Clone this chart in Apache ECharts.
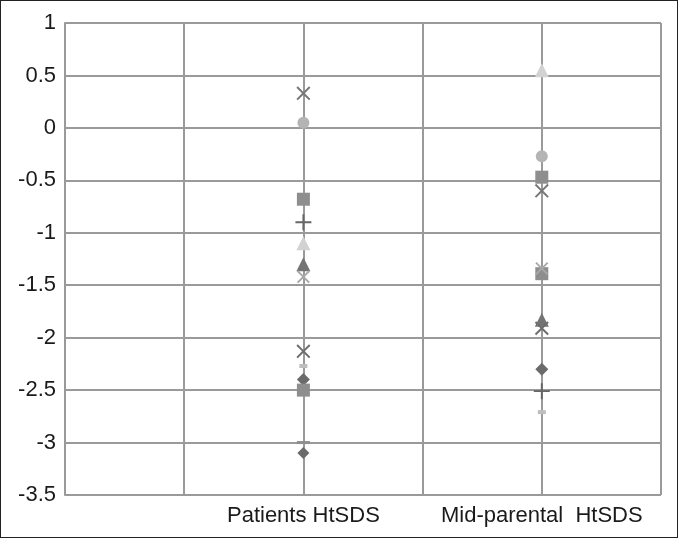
<!DOCTYPE html>
<html>
<head>
<meta charset="utf-8">
<script src="https://cdn.jsdelivr.net/npm/echarts@6/dist/echarts.min.js"></script>
<style>
  html, body { margin: 0; padding: 0; background: #fff; }
  #chart { width: 676px; height: 536px; border: 1px solid #222; }
</style>
</head>
<body>
<div id="chart"></div>
<script>
// x positions (Excel-like category slots, points sit on the tick lines)
var categories = ['', '', 'Patients HtSDS', '', 'Mid-parental  HtSDS', ''];
var patientsIdx = 2;
var midIdx = 4;

// one entry per subject: [patients HtSDS, mid-parental HtSDS]
var patientsValues = [-2.4, -2.5, -1.3, -2.13, -1.42, 0.05, -0.9, -2.27, -3.0, -3.1, -0.68, -1.1, 0.33];
var midValues      = [-2.3, -1.39, -1.83, -1.91, -1.34, -0.27, -2.51, -2.71, null, null, -0.47, 0.55, -0.6];

var X_PATH = 'path://M0,1L1,0L5,4L9,0L10,1L6,5L10,9L9,10L5,6L1,10L0,9L4,5Z';
var PLUS_PATH = 'path://M4.4,0H5.6V4.4H10V5.6H5.6V10H4.4V5.6H0V4.4H4.4Z';

// marker look per subject
var markers = [
  { symbol: 'diamond', size: 13, color: '#6b6b6b' },
  { symbol: 'rect', size: 13, color: '#8e8e8e' },
  { symbol: 'triangle', size: 14, color: '#747474' },
  { symbol: X_PATH, size: 14, color: '#6e6e6e' },
  { symbol: X_PATH, size: 13, color: '#a8a8a8' },
  { symbol: 'circle', size: 12, color: '#b4b4b4' },
  { symbol: PLUS_PATH, size: 16, color: '#666666' },
  { symbol: 'rect', size: [8, 4], color: '#bdbdbd' },
  { symbol: 'rect', size: [13, 3], color: '#8e8e8e' },
  { symbol: 'diamond', size: 12, color: '#6b6b6b' },
  { symbol: 'rect', size: 13, color: '#8e8e8e' },
  { symbol: 'triangle', size: 14, color: '#d2d2d2' },
  { symbol: X_PATH, size: 14, color: '#777777' }
];

var series = patientsValues.map(function (p, i) {
  var data = [];
  if (p != null) data.push([patientsIdx, p]);
  if (midValues[i] != null) data.push([midIdx, midValues[i]]);
  return {
    type: 'scatter',
    symbol: markers[i].symbol,
    symbolSize: markers[i].size,
    itemStyle: { color: markers[i].color, opacity: 1 },
    data: data
  };
});

var chart = echarts.init(document.getElementById('chart'));
chart.setOption({
  animation: false,
  grid: { left: 64, right: 16, top: 22, bottom: 42 },
  xAxis: {
    type: 'category',
    data: categories,
    boundaryGap: false,
    axisLine: { lineStyle: { color: '#9a9a9a', width: 2 } },
    axisTick: { show: false },
    splitLine: { show: true, interval: 0, lineStyle: { color: '#9a9a9a', width: 2 } },
    axisLabel: {
      interval: 0,
      margin: 10,
      color: '#1a1a1a',
      fontFamily: 'Liberation Sans, Arial, sans-serif',
      fontSize: 22
    }
  },
  yAxis: {
    type: 'value',
    min: -3.5,
    max: 1,
    interval: 0.5,
    axisLine: { show: true, lineStyle: { color: '#9a9a9a', width: 2 } },
    axisTick: { show: false },
    splitLine: { lineStyle: { color: '#9a9a9a', width: 2 } },
    axisLabel: {
      margin: 9,
      color: '#1a1a1a',
      fontFamily: 'Liberation Sans, Arial, sans-serif',
      fontSize: 22
    }
  },
  series: series
});
</script>
</body>
</html>
